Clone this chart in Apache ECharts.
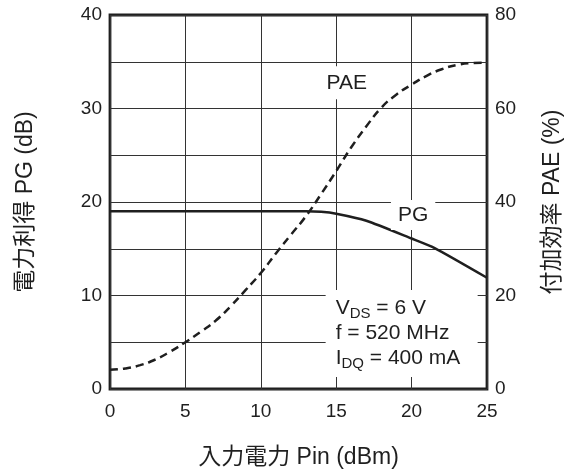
<!DOCTYPE html>
<html>
<head>
<meta charset="utf-8">
<script src="https://cdn.jsdelivr.net/npm/echarts@6/dist/echarts.min.js"></script>
<style>
  html, body { margin: 0; padding: 0; background: #fff; }
  #chart { width: 575px; height: 474px; }
</style>
</head>
<body>
<div id="chart"></div>
<script>
// Input power sweep (dBm)
const pin = [0, 1, 2, 3, 4, 5, 6, 7, 8, 9, 10, 11, 12, 13, 14, 15, 16, 17, 18, 19, 20, 21, 22, 23, 24, 25];
// Power gain PG (dB)
const pgPin = [0, 5, 10, 13, 14, 15, 17, 20, 21.5, 25];
const pgValues = [19, 19, 19, 19, 18.95, 18.75, 18.0, 16.1, 15.1, 11.9];
// Power-added efficiency PAE (%)
const paeValues = [4.1, 4.4, 5.1, 6.3, 8.0, 10.0, 12.2, 14.6, 17.7, 21.2, 24.8, 29.0, 33.0, 37.0, 41.7, 46.6, 51.7, 56.2, 60.2, 63.0, 65.1, 67.0, 68.4, 69.3, 69.7, 69.8];

const FONT = '"Liberation Sans", Arial, "Noto Sans CJK JP", sans-serif';
const INK = '#1f1f1f';

const chart = echarts.init(document.getElementById('chart'), null, { renderer: 'canvas' });

const option = {
  animation: false,
  backgroundColor: '#fff',
  textStyle: { fontFamily: FONT, color: INK },
  grid: {
    left: 110, right: 88, top: 15, bottom: 84,
    show: true, borderColor: INK, borderWidth: 2.8, backgroundColor: 'transparent'
  },
  xAxis: {
    type: 'value', min: 0, max: 25, interval: 5,
    name: '入力電力 Pin (dBm)', nameLocation: 'middle', nameGap: 57,
    nameTextStyle: { fontSize: 23, color: INK, fontFamily: FONT },
    axisLine: { show: false }, axisTick: { show: false },
    axisLabel: { fontSize: 19, color: INK, margin: 13, fontFamily: FONT },
    splitLine: { show: true, lineStyle: { color: '#333', width: 1 } }
  },
  yAxis: [
    {
      type: 'value', min: 0, max: 40, interval: 5,
      name: '電力利得 PG (dB)', nameLocation: 'middle', nameGap: 73, nameRotate: 90,
      nameTextStyle: { fontSize: 23, color: INK, fontFamily: FONT },
      axisLine: { show: false }, axisTick: { show: false },
      axisLabel: {
        fontSize: 19, color: INK, margin: 8, fontFamily: FONT,
        formatter: v => (v % 10 === 0 ? String(v) : '')
      },
      splitLine: { show: true, lineStyle: { color: '#333', width: 1 } }
    },
    {
      type: 'value', min: 0, max: 80, interval: 10, position: 'right',
      name: '付加効率 PAE (%)', nameLocation: 'middle', nameGap: 54, nameRotate: 90,
      nameTextStyle: { fontSize: 23, color: INK, fontFamily: FONT },
      axisLine: { show: false }, axisTick: { show: false },
      axisLabel: {
        fontSize: 19, color: INK, margin: 8, fontFamily: FONT,
        formatter: v => (v % 20 === 0 ? String(v) : '')
      },
      splitLine: { show: false }
    }
  ],
  series: [
    {
      name: 'PAE', type: 'line', yAxisIndex: 1, smooth: 0.5,
      data: pin.map((x, i) => [x, paeValues[i]]),
      showSymbol: false, symbol: 'none',
      lineStyle: { color: INK, width: 2.5, type: [8, 5], cap: 'butt' },
      z: 3,
      markPoint: {
        symbol: 'circle', symbolSize: 0,
        data: [{ coord: [15.7, 65.5] }],
        label: {
          show: true, formatter: 'PAE', fontSize: 21, color: INK, fontFamily: FONT,
          backgroundColor: '#fff', padding: [6, 6]
        }
      }
    },
    {
      name: 'PG', type: 'line', yAxisIndex: 0, smooth: 0.2,
      data: pgPin.map((x, i) => [x, pgValues[i]]),
      showSymbol: false, symbol: 'none',
      lineStyle: { color: INK, width: 2.5 },
      z: 4,
      markPoint: {
        symbol: 'circle', symbolSize: 0,
        data: [{ coord: [20.1, 18.6] }],
        label: {
          show: true, formatter: 'PG', fontSize: 21, color: INK, fontFamily: FONT,
          backgroundColor: '#fff', padding: [8, 7, 1, 7]
        }
      }
    }
  ]
};
chart.setOption(option);

// Operating-condition note in the lower right of the plot
const topLeft = chart.convertToPixel({ xAxisIndex: 0, yAxisIndex: 0 }, [14.3, 10.6]);
const main = { fontSize: 21, lineHeight: 25, fontFamily: FONT, color: INK };
const sub = { fontSize: 15, lineHeight: 25, padding: [10, 0, 0, 0], fontFamily: FONT, color: INK };
chart.setOption({
  graphic: [
    {
      type: 'rect', z: 10,
      shape: { x: topLeft[0], y: topLeft[1], width: 152, height: 87 },
      style: { fill: '#fff' }
    },
    {
      type: 'text', z: 11,
      x: topLeft[0] + 10, y: topLeft[1] + 6,
      style: {
        text: '{m|V}{s|DS}{m| = 6 V}\n{m|f = 520 MHz}\n{m|I}{s|DQ}{m| = 400 mA}',
        rich: { m: main, s: sub },
        fill: INK, font: '21px ' + FONT
      }
    }
  ]
});
</script>
</body>
</html>
